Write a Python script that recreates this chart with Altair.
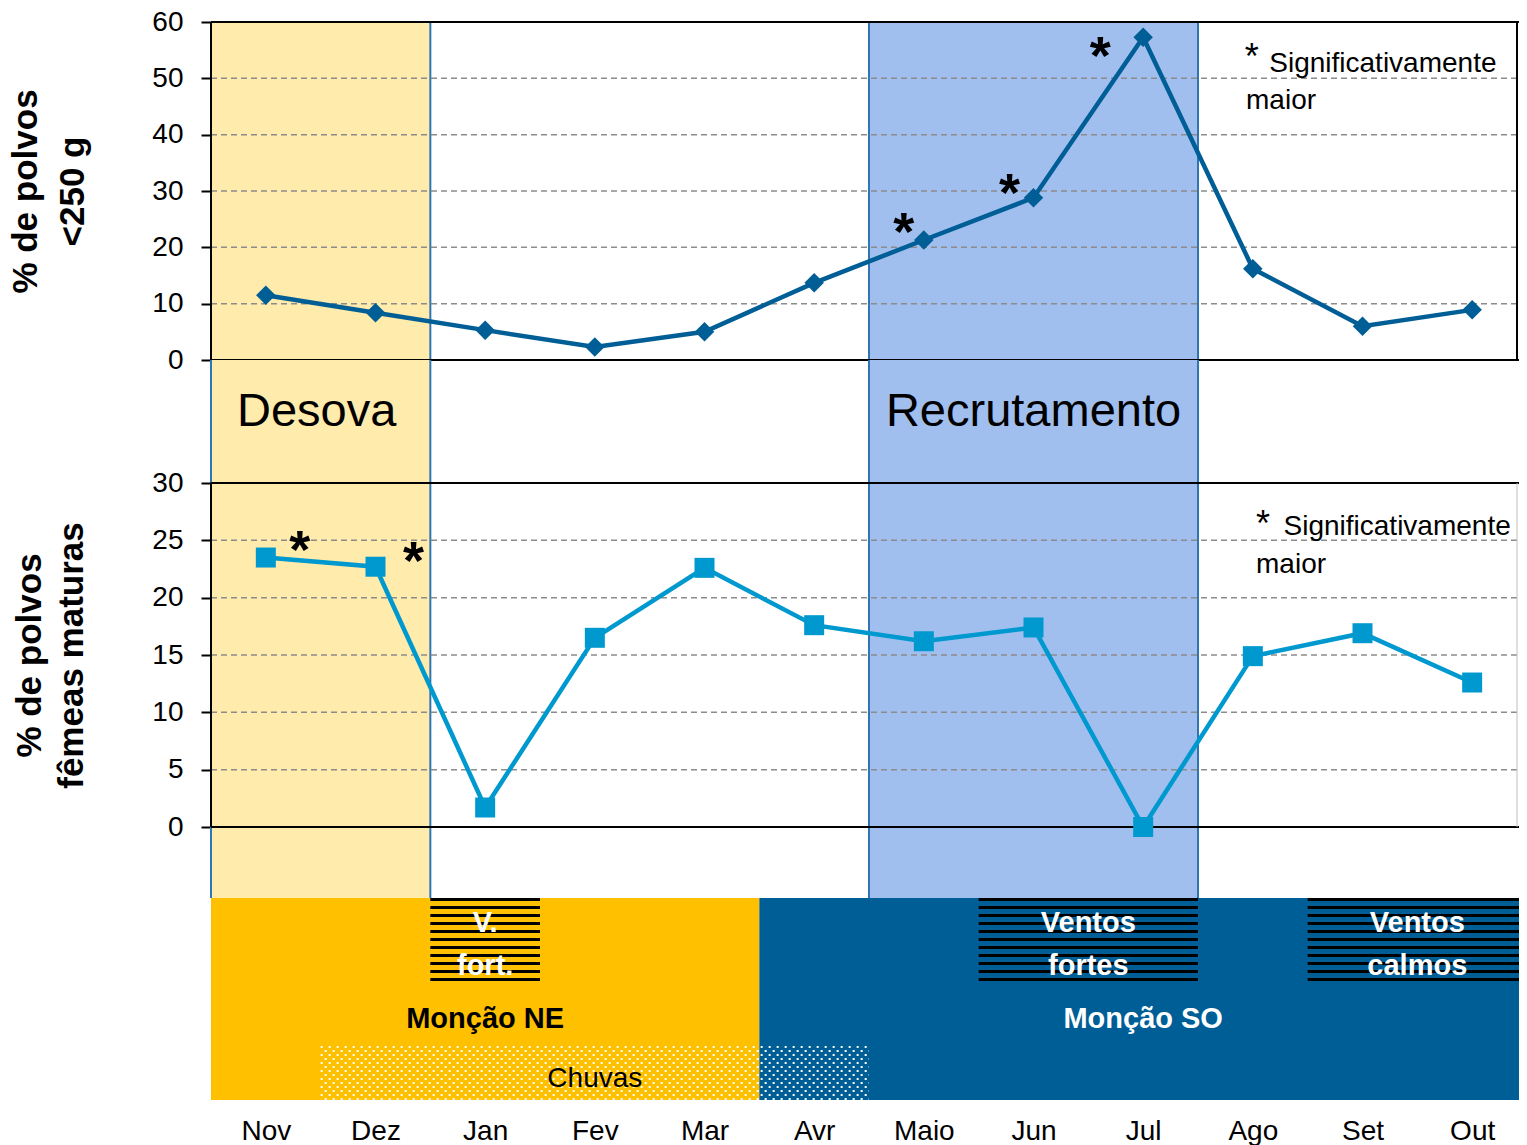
import json
import altair as alt
import pandas as pd

# ---------------- data ----------------
months = ["Nov", "Dez", "Jan", "Fev", "Mar", "Avr", "Maio", "Jun", "Jul", "Ago", "Set", "Out"]
small_pct = [11.5, 8.4, 5.3, 2.3, 5.0, 13.7, 21.3, 28.8, 57.3, 16.2, 6.0, 8.9]
mature_pct = [23.5, 22.7, 1.7, 16.5, 22.6, 17.6, 16.2, 17.4, 0.0, 14.9, 16.9, 12.6]
small_sig = ["Maio", "Jun", "Jul"]
mature_sig = ["Nov", "Dez"]

top_ticks = [0, 10, 20, 30, 40, 50, 60]
bottom_ticks = [0, 5, 10, 15, 20, 25, 30]

phase_names = ["Desova", "Recrutamento"]
phase_first = ["Nov", "Maio"]
phase_last = ["Dez", "Jul"]

monsoon_names = ["Monção NE", "Monção SO"]
monsoon_first = ["Nov", "Avr"]
monsoon_last = ["Mar", "Out"]

wind_names = ["V.\nfort.", "Ventos\nfortes", "Ventos\ncalmos"]
wind_first = ["Jan", "Jun", "Set"]
wind_last = ["Jan", "Jul", "Out"]

rain_names = ["Chuvas"]
rain_first = ["Dez"]
rain_last = ["Avr"]

note_texts = ["*", "Significativamente", "maior"]
top_title = ["% de polvos", "<250 g"]
bottom_title = ["% de polvos", "fêmeas maturas"]

# ---------------- styles / layout ----------------
FONT = "Liberation Sans"
DARK = "#005E96"
LIGHT = "#0099CF"
YELLOW = "#FFC000"
phase_fill = ["#FFEBAB", "#A0BFEE"]
phase_edge = ["#2E75B6", "#2E75B6"]
phase_text_dx = [-4, 0]
monsoon_fill = [YELLOW, DARK]
monsoon_text = ["black", "white"]
GRID = "#8C8C8C"

W = 1316
H_TOP, H_GAP, H_BOT, H_STRIP, H_BAND = 338, 123, 344, 71, 202
MONTH_PX = W / len(months)
RIGHT_CLIP = 9          # px of the plot's right edge that fall outside the page
FRAME_X = W - RIGHT_CLIP - 1

# asterisk offsets (px) relative to the point
ast_top_offset = {"Maio": (-20, -6), "Jun": (-24, -3), "Jul": (-43, 21)}
ast_bot_offset = {"Nov": (34, -6), "Dez": (38, -4)}
# significance note positions (x in month units, y in panel units)
note_top_pos = [(9.49, 55.4), (9.65, 52.5), (9.438, 46.0)]
note_bot_pos = [(9.593, 27.2), (9.78, 26.16), (9.529, 22.85)]


def mi(m):
    return months.index(m)


XS = alt.Scale(domain=[0, len(months)], nice=False, zero=False)


def X(field, axis=None):
    return alt.X(f"{field}:Q", scale=XS, axis=axis, title=None)


def X2(field):
    return alt.X2(f"{field}:Q")


def make_y(domain, axis):
    sc = alt.Scale(domain=domain, nice=False, zero=False)

    def f(field):
        return alt.Y(f"{field}:Q", scale=sc, axis=axis)
    return f


def periods(names, first, last, **extra):
    df = pd.DataFrame({
        "name": names,
        "start": [mi(m) for m in first],
        "end": [mi(m) + 1 for m in last],
    })
    df["mid"] = (df["start"] + df["end"]) / 2
    for k, v in extra.items():
        df[k] = v
    return df


phase_df = periods(phase_names, phase_first, phase_last, fill=phase_fill, edge=phase_edge)
edge_df = pd.concat([
    phase_df[["start", "edge"]].rename(columns={"start": "x"}),
    phase_df[["end", "edge"]].rename(columns={"end": "x"}),
])


def shading(h):
    rect = alt.Chart(phase_df).mark_rect().encode(
        x=X("start"), x2=X2("end"), y=alt.value(0), y2=alt.value(h),
        color=alt.Color("fill:N", scale=None))
    edges = alt.Chart(edge_df).mark_rule(strokeWidth=2).encode(
        x=X("x"), color=alt.Color("edge:N", scale=None))
    return [rect, edges]


def y_axis(values, title, pad, lh, domain=True, title_y=None):
    kw = {}
    if title_y is not None:
        kw["titleY"] = title_y
    return alt.Axis(values=values, title=title, grid=False,
                    domain=domain, domainColor="black", domainWidth=2,
                    ticks=True, tickColor="black", tickWidth=2, tickSize=10,
                    labelPadding=18, labelFontSize=28, labelFont=FONT, labelColor="black",
                    titleFont=FONT, titleFontSize=35, titleFontWeight="bold",
                    titleColor="black", titlePadding=pad, titleLineHeight=lh, **kw)


def panel(values, sig, offsets, ticks, axis, height, ext, color, shape, size, note_pos, right_color, right_w):
    lo = ticks[0] - ext
    YF = make_y([lo, ticks[-1]], axis)
    df = pd.DataFrame({"month": months, "pos": [i + 0.5 for i in range(len(months))], "value": values})
    layers = shading(height)
    layers.append(alt.Chart(pd.DataFrame({"v": ticks[1:-1]})).mark_rule(
        color=GRID, strokeWidth=1.5, strokeDash=[6, 4]).encode(y=YF("v")))
    layers.append(alt.Chart(pd.DataFrame({"v": [ticks[0], ticks[-1]]})).mark_rule(
        color="black", strokeWidth=2).encode(y=YF("v")))
    frame = pd.DataFrame({"x": [0], "a": [ticks[0]], "b": [ticks[-1]]})
    layers.append(alt.Chart(frame).mark_rule(color="black", strokeWidth=2).encode(
        x=X("x"), y=YF("a"), y2=alt.Y2("b")))
    layers.append(alt.Chart(frame).mark_rule(color=right_color, strokeWidth=right_w).encode(
        x=alt.value(FRAME_X), y=YF("a"), y2=alt.Y2("b")))
    layers.append(alt.Chart(df).mark_line(color=color, strokeWidth=4.5).encode(x=X("pos"), y=YF("value")))
    layers.append(alt.Chart(df).mark_point(shape=shape, filled=True, size=size, color=color, opacity=1).encode(
        x=X("pos"), y=YF("value")))
    for m in sig:
        dx, dy = offsets[m]
        layers.append(alt.Chart(df[df["month"] == m]).mark_text(
            text="*", fontSize=54, fontWeight="bold", font=FONT, color="black",
            align="center", baseline="middle", dx=dx, dy=dy).encode(x=X("pos"), y=YF("value")))
    # significance note
    (sx, sy), (l1x, l1y), (l2x, l2y) = note_pos
    layers.append(alt.Chart(pd.DataFrame({"x": [sx], "y": [sy], "t": [note_texts[0]]})).mark_text(
        fontSize=36, font=FONT, color="black", align="center", baseline="middle", dy=10).encode(
        x=X("x"), y=YF("y"), text="t:N"))
    layers.append(alt.Chart(pd.DataFrame({"x": [l1x, l2x], "y": [l1y, l2y], "t": note_texts[1:]})).mark_text(
        fontSize=28, font=FONT, color="black", align="left", baseline="middle").encode(
        x=X("x"), y=YF("y"), text="t:N"))
    return alt.layer(*layers).properties(width=W, height=height)


top = panel(small_pct, small_sig, ast_top_offset, top_ticks,
            y_axis(top_ticks, top_title, 61, 47), H_TOP, 0, DARK, "diamond", 380,
            note_top_pos, "black", 2)

bot_ext = H_STRIP / H_BOT * (bottom_ticks[-1] - bottom_ticks[0])
bottom = panel(mature_pct, mature_sig, ast_bot_offset, bottom_ticks,
               y_axis(bottom_ticks, bottom_title, 62, 42, domain=False, title_y=H_BOT / 2),
               H_BOT + H_STRIP, bot_ext, LIGHT, "square", 400,
               note_bot_pos, "#BFBFBF", 1)

gap_layers = shading(H_GAP)
for i, name in enumerate(phase_names):
    gap_layers.append(alt.Chart(phase_df[phase_df["name"] == name]).mark_text(
        fontSize=47, font=FONT, color="black", baseline="middle", dx=phase_text_dx[i]).encode(
        x=X("mid"), y=alt.value(52), text="name:N"))
gap = alt.layer(*gap_layers).properties(width=W, height=H_GAP)

# ---------------- seasonal band ----------------
month_axis = alt.Axis(values=[i + 0.5 for i in range(len(months))],
                      labelExpr=f"{json.dumps(months)}[floor(datum.value)]",
                      ticks=False, tickSize=0, domain=False, grid=False,
                      labelPadding=17, labelFontSize=28, labelFont=FONT, labelColor="black",
                      labelFlush=False, labelOverlap=False, orient="bottom")

monsoon_df = periods(monsoon_names, monsoon_first, monsoon_last, fill=monsoon_fill, tcolor=monsoon_text)
wind_df = periods(wind_names, wind_first, wind_last)
wind_df["sw"] = (wind_df["end"] - wind_df["start"]) * MONTH_PX
rain_df = periods(rain_names, rain_first, rain_last)

rain_top = 148
dot_rows = [rain_top + 1 + 4 * k for k in range(14)]
rain_rows = pd.DataFrame([{"start": rain_df["start"][0], "end": rain_df["end"][0], "ypx": y, "odd": i % 2}
                          for i, y in enumerate(dot_rows)])

band_layers = [
    alt.Chart(monsoon_df).mark_rect().encode(
        x=X("start", month_axis), x2=X2("end"), y=alt.value(0), y2=alt.value(H_BAND),
        color=alt.Color("fill:N", scale=None)),
    alt.Chart(wind_df).mark_rule(strokeDash=[3, 5], strokeCap="butt", color="black").encode(
        x=X("mid", month_axis), y=alt.value(0), y2=alt.value(83),
        strokeWidth=alt.StrokeWidth("sw:Q", scale=None)),
]
for odd in (0, 1):
    band_layers.append(alt.Chart(rain_rows[rain_rows["odd"] == odd]).mark_rule(
        strokeDash=[2, 6], strokeDashOffset=4 * odd, strokeWidth=2, strokeCap="butt", color="white").encode(
        x=X("start", month_axis), x2=X2("end"), y=alt.Y("ypx:Q", scale=None, axis=None)))
band_layers += [
    alt.Chart(wind_df).mark_text(fontSize=29, font=FONT, fontWeight="bold", color="white",
                                 baseline="middle", lineBreak="\n", lineHeight=43).encode(
        x=X("mid", month_axis), y=alt.value(25), text="name:N"),
    alt.Chart(monsoon_df).mark_text(fontSize=29, font=FONT, fontWeight="bold", baseline="middle").encode(
        x=X("mid", month_axis), y=alt.value(121), text="name:N", color=alt.Color("tcolor:N", scale=None)),
    alt.Chart(rain_df).mark_text(fontSize=28, font=FONT, color="black", baseline="middle").encode(
        x=X("mid", month_axis), y=alt.value(181), text="name:N"),
]
band = alt.layer(*band_layers).properties(width=W, height=H_BAND)

chart = alt.vconcat(top, gap, bottom, band, spacing=0, bounds="flush").resolve_scale(
    x="independent", y="independent").properties(
    padding={"left": 0, "top": 0, "right": -RIGHT_CLIP, "bottom": 0}).configure_view(strokeWidth=0)

chart.save("out.html", embed_options={"renderer": "svg", "actions": False})
